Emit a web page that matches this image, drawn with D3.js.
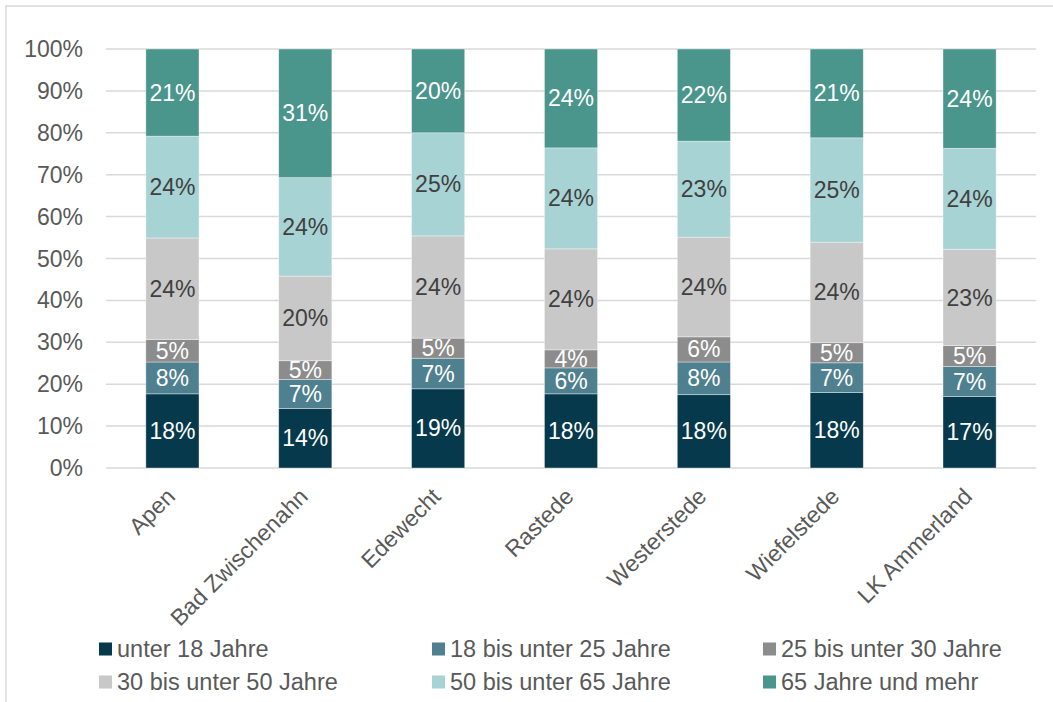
<!DOCTYPE html>
<html>
<head>
<meta charset="utf-8">
<script src="https://cdn.jsdelivr.net/npm/d3@7"></script>
<style>
  body { margin: 0; background: #fff; }
  svg text { font-family: "Liberation Sans", Arial, sans-serif; }
</style>
</head>
<body>
<div id="chart"></div>
<script>
// Chart data
const municipalities = ['Apen', 'Bad Zwischenahn', 'Edewecht', 'Rastede', 'Westerstede', 'Wiefelstede', 'LK Ammerland'];
const age_groups = ['unter 18 Jahre', '18 bis unter 25 Jahre', '25 bis unter 30 Jahre',
                    '30 bis unter 50 Jahre', '50 bis unter 65 Jahre', '65 Jahre und mehr'];
const under_18   = [17.7, 14.2, 18.9, 17.7, 17.5, 18.0, 17.1];
const age_18_25  = [7.6, 6.9, 7.3, 6.2, 7.8, 7.1, 7.1];
const age_25_30  = [5.4, 4.5, 4.8, 4.3, 6.0, 4.8, 5.0];
const age_30_50  = [24.2, 20.2, 24.4, 24.1, 23.8, 24.0, 23.0];
const age_50_65  = [24.3, 23.5, 24.6, 24.1, 22.9, 24.9, 24.1];
const age_65_up  = [20.8, 30.7, 20.0, 23.6, 22.0, 21.2, 23.7];
const y_ticks = [0, 10, 20, 30, 40, 50, 60, 70, 80, 90, 100];

const series = [under_18, age_18_25, age_25_30, age_30_50, age_50_65, age_65_up];

// Styling constants
const C = {
  width: 1053,
  height: 702,
  margin: {left: 106, right: 17, top: 49, bottom: 234},
  colors: ['#05394B', '#4F808F', '#8C8C8C', '#C8C8C8', '#A7D3D4', '#4A958C'],
  label_colors: ['#fff', '#fff', '#fff', '#404040', '#404040', '#fff'],
  grid_color: '#D9D9D9',
  text_color: '#595959',
  font_size: 23,
  legend_font_size: 23.5,
};

const svg = d3.select('#chart').append('svg')
  .attr('width', C.width)
  .attr('height', C.height);

// Outer chart border
svg.append('rect')
  .attr('x', 6).attr('y', 6)
  .attr('width', C.width + 10).attr('height', C.height + 10)
  .attr('fill', 'none')
  .attr('stroke', C.grid_color)
  .attr('stroke-width', 1.5);

// Build a table for the stack layout
const table = municipalities.map((name, i) => {
  const row = {name};
  age_groups.forEach((g, j) => { row[g] = series[j][i]; });
  return row;
});
const stacked = d3.stack().keys(age_groups)(table);

const X = d3.scaleBand()
  .domain(municipalities)
  .range([C.margin.left, C.width - C.margin.right])
  .paddingInner(0.6)
  .paddingOuter(0.3);

const Y = d3.scaleLinear()
  .domain([0, 100])
  .range([C.height - C.margin.bottom, C.margin.top]);

// Gridlines
svg.append('g').selectAll('line')
  .data(y_ticks)
  .join('line')
  .attr('x1', C.margin.left).attr('x2', C.width - C.margin.right)
  .attr('y1', d => Y(d)).attr('y2', d => Y(d))
  .attr('stroke', C.grid_color)
  .attr('stroke-width', 1.5);

// Y axis tick labels
svg.append('g').selectAll('text')
  .data(y_ticks)
  .join('text')
  .attr('x', 83)
  .attr('y', d => Y(d))
  .attr('dy', '0.35em')
  .attr('text-anchor', 'end')
  .attr('fill', C.text_color)
  .attr('font-size', C.font_size)
  .text(d => d + '%');

// Stacked bars
const layers = svg.append('g').selectAll('g')
  .data(stacked)
  .join('g')
  .attr('fill', (d, i) => C.colors[i]);

layers.selectAll('rect')
  .data(d => d)
  .join('rect')
  .attr('x', d => X(d.data.name))
  .attr('width', X.bandwidth())
  .attr('y', d => Y(d[1]))
  .attr('height', d => Y(d[0]) - Y(d[1]))
  .attr('stroke', 'rgba(255,255,255,0.5)')
  .attr('stroke-width', 0.75);

// Data labels
svg.append('g').selectAll('g')
  .data(stacked)
  .join('g')
  .attr('fill', (d, i) => C.label_colors[i])
  .selectAll('text')
  .data(d => d)
  .join('text')
  .attr('x', d => X(d.data.name) + X.bandwidth() / 2)
  .attr('y', d => (Y(d[0]) + Y(d[1])) / 2)
  .attr('dy', '0.35em')
  .attr('text-anchor', 'middle')
  .attr('font-size', C.font_size)
  .text(d => Math.round(d[1] - d[0]) + '%');

// Rotated category labels
svg.append('g').selectAll('text')
  .data(municipalities)
  .join('text')
  .attr('transform', d => `translate(${X(d) + X.bandwidth() / 2 + 4},${Y(0) + 30}) rotate(-45)`)
  .attr('text-anchor', 'end')
  .attr('fill', C.text_color)
  .attr('font-size', C.font_size)
  .text(d => d);

// Legend, 3 columns x 2 rows
const legend_cols = [99, 432, 763];
const legend_rows = [649, 682];
const legend = svg.append('g').selectAll('g')
  .data(age_groups)
  .join('g')
  .attr('transform', (d, i) => `translate(${legend_cols[i % 3]},${legend_rows[Math.floor(i / 3)]})`);

legend.append('rect')
  .attr('x', 0).attr('y', -6.5)
  .attr('width', 13).attr('height', 13)
  .attr('fill', (d, i) => C.colors[i]);

legend.append('text')
  .attr('x', 18)
  .attr('dy', '0.35em')
  .attr('fill', C.text_color)
  .attr('font-size', C.legend_font_size)
  .text(d => d);
</script>
</body>
</html>
